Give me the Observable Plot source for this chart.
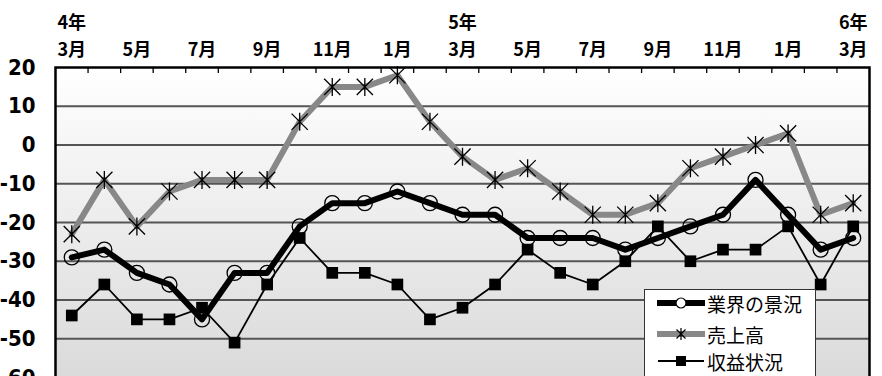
<!DOCTYPE html>
<html>
<head>
<meta charset="utf-8">
<script src="https://cdn.jsdelivr.net/npm/d3@7"></script>
<script src="https://cdn.jsdelivr.net/npm/@observablehq/plot@0.6"></script>
<style>
  html, body { margin: 0; padding: 0; background: #fff; overflow: hidden; }
  #wrap { position: relative; width: 882px; height: 376px; overflow: hidden; }
  #legend {
    position: absolute; left: 644px; top: 289px; width: 172px; height: 100px;
    background: #fff; border: 1px solid #333; box-sizing: border-box;
    font-family: "Noto Sans CJK JP", sans-serif; font-size: 19px; color: #000;
  }
  .row { position: absolute; left: 12px; height: 24px; display: flex; align-items: center; }
  .row span { margin-left: 2px; line-height: 1; }
</style>
</head>
<body>
<div id="wrap">
  <div id="chart"></div>
  <div id="legend">
    <div class="row" style="top:1px"><svg width="48" height="24"><line x1="1" y1="12" x2="47" y2="12" stroke="#000" stroke-width="6" stroke-linecap="round"/><circle cx="24" cy="12" r="5" fill="#fff" stroke="#000" stroke-width="1.2"/></svg><span>業界の景況</span></div>
    <div class="row" style="top:32px"><svg width="48" height="24"><line x1="1" y1="12" x2="47" y2="12" stroke="#888" stroke-width="6" stroke-linecap="round"/><path d="M24,6V18M19.5,7.5L28.5,16.5M19.5,16.5L28.5,7.5" stroke="#000" stroke-width="1.2"/></svg><span>売上高</span></div>
    <div class="row" style="top:59px"><svg width="48" height="24"><line x1="1" y1="12" x2="47" y2="12" stroke="#000" stroke-width="2"/><rect x="19" y="7" width="10" height="10" fill="#000"/></svg><span>収益状況</span></div>
  </div>
</div>
<script>
// Month labels for 25 monthly points (4年3月 .. 6年3月)
const months = ["3月","4月","5月","6月","7月","8月","9月","10月","11月","12月","1月","2月",
                "3月","4月","5月","6月","7月","8月","9月","10月","11月","12月","1月","2月","3月"];
const yearLabels = ["4年", "5年", "6年"];
const yearIndex = [0, 12, 24];
const yTicks = [20, 10, 0, -10, -20, -30, -40, -50, -60];

// Series values
const gyokai = [-29,-27,-33,-36,-45,-33,-33,-21,-15,-15,-12,-15,-18,-18,-24,-24,-24,-27,-24,-21,-18,-9,-18,-27,-24]; // 業界の景況
const uriage = [-23,-9,-21,-12,-9,-9,-9,6,15,15,18,6,-3,-9,-6,-12,-18,-18,-15,-6,-3,0,3,-18,-15];       // 売上高
const shueki = [-44,-36,-45,-45,-42,-51,-36,-24,-33,-33,-36,-45,-42,-36,-27,-33,-36,-30,-21,-30,-27,-27,-21,-36,-21]; // 収益状況

const idx = months.map((m, i) => i);
const labelIdx = idx.filter(i => i % 2 === 0);
const boundaries = idx.slice(1).map(i => i - 0.5);

const asterisk = {
  draw(ctx, size) {
    const r = Math.sqrt(size / Math.PI), d = r * 0.9;
    ctx.moveTo(0, -r); ctx.lineTo(0, r);
    ctx.moveTo(-d, -d); ctx.lineTo(d, d);
    ctx.moveTo(-d, d); ctx.lineTo(d, -d);
  }
};

const jp = "'Noto Sans CJK JP', sans-serif";
const num = "'Liberation Sans Narrow', 'DejaVu Sans Condensed', sans-serif";

const chart = Plot.plot({
  width: 882,
  height: 380,
  marginLeft: 55,
  marginRight: 13,
  marginTop: 67,
  marginBottom: 3,
  x: { type: "linear", domain: [-0.5, 24.5], axis: null },
  y: { domain: [-60, 20], axis: null },
  style: { background: "transparent", overflow: "visible" },
  marks: [
    Plot.frame({ fill: "url(#bggrad)" }),
    Plot.ruleY(yTicks.filter(v => v < 20), { stroke: "#555", strokeWidth: 2 }),
    Plot.axisX(boundaries, { anchor: "top", tickSize: -5, tickFormat: () => "", stroke: "#000", strokeWidth: 1.3, label: null }),
    Plot.axisY(yTicks, { anchor: "left", tickSize: 0, tickPadding: 20, tickFormat: d => String(d),
      fontSize: 22, fontWeight: "bold", fontFamily: num, fill: "#000", label: null }),
    Plot.text(labelIdx, { x: d => d, text: d => months[d], frameAnchor: "top", dy: -24,
      fontSize: 18, fontWeight: "bold", fontFamily: jp, fill: "#000" }),
    Plot.text(yearIndex, { x: d => d, text: (d, i) => yearLabels[i], frameAnchor: "top", dy: -51,
      fontSize: 18, fontWeight: "bold", fontFamily: jp, fill: "#000" }),
    // 業界の景況
    Plot.line(gyokai, { x: (d, i) => i, y: d => d, stroke: "#000", strokeWidth: 6, strokeLinejoin: "round" }),
    Plot.dot(gyokai, { x: (d, i) => i, y: d => d, r: 7.5, stroke: "#000", strokeWidth: 1.3, fill: "none" }),
    // 売上高
    Plot.line(uriage, { x: (d, i) => i, y: d => d, stroke: "#888", strokeWidth: 6, strokeLinejoin: "round" }),
    Plot.dot(uriage, { x: (d, i) => i, y: d => d, r: 9, symbol: asterisk, stroke: "#000", strokeWidth: 1.3, fill: "none" }),
    // 収益状況
    Plot.line(shueki, { x: (d, i) => i, y: d => d, stroke: "#000", strokeWidth: 1.8 }),
    Plot.dot(shueki, { x: (d, i) => i, y: d => d, r: 6.6, symbol: "square", fill: "#000", stroke: "none" }),
    Plot.frame({ stroke: "#000", strokeWidth: 2.5 })
  ]
});

const ns = "http://www.w3.org/2000/svg";
const defs = document.createElementNS(ns, "defs");
defs.innerHTML = '<linearGradient id="bggrad" x1="0" y1="0" x2="0" y2="1">' +
  '<stop offset="0" stop-color="#ffffff"/><stop offset="1" stop-color="#dadada"/></linearGradient>';
chart.insertBefore(defs, chart.firstChild);
document.getElementById("chart").appendChild(chart);
</script>
</body>
</html>
